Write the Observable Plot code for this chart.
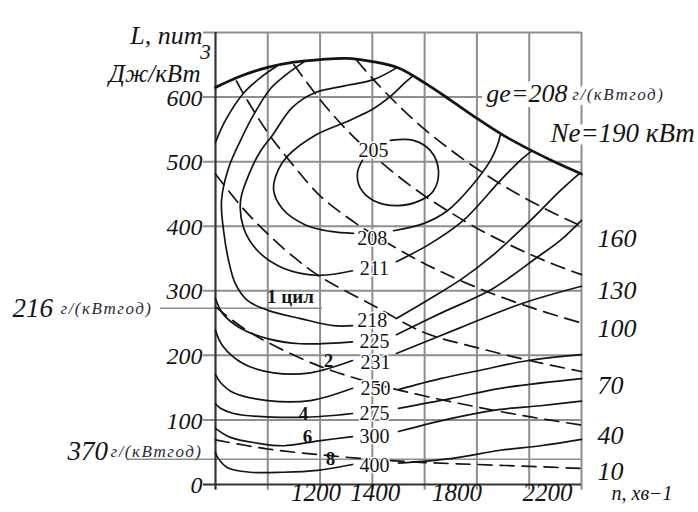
<!DOCTYPE html>
<html><head><meta charset="utf-8">
<script src="https://cdn.jsdelivr.net/npm/d3@7"></script>
<script src="https://cdn.jsdelivr.net/npm/@observablehq/plot@0.6"></script>
<style>
html,body{margin:0;padding:0;background:#fff;}
#chart{width:698px;height:512px;overflow:hidden;}
</style>
</head><body><div id="chart"></div>
<script>
// grid and tick values (n, min^-1 ; L, J/dm3)
const xGrid = [800, 1000, 1200, 1400, 1600, 1800, 2000, 2200];
const yGrid = [0, 100, 200, 300, 400, 500, 600, 700];
const yTickLabels = [0, 100, 200, 300, 400, 500, 600];
const xTickLabels = [1200, 1400, 1800, 2200];

// outer (maximum) characteristic
const outer = [[800,615],[900,633],[1000,646],[1100,654],[1200,658],[1300,660],[1400,655],[1500,645],[1600,622],[1700,595],[1800,567],[1900,541],[2000,519],[2100,499],[2200,481]];

// specific fuel consumption iso-lines (ge, g/kWh)
const ge205 = [[1469,533],[1557,533],[1622,517],[1653,486],[1634,455],[1584,440],[1496,432],[1404,440],[1354,459],[1343,483],[1362,502]];
const ge208L = [[1553,632],[1527,623],[1469,601],[1404,582],[1335,568],[1297,561],[1182,541],[1079,510],[1041,488],[1022,457],[1056,427],[1144,402],[1240,392],[1328,389]];
const ge208R = [[1481,393],[1595,404],[1687,424],[1775,460],[1852,502],[1878,525],[1890,542]];
const ge211L = [[1496,646],[1404,627],[1289,617],[1182,607],[1094,584],[1018,541],[972,516],[934,486],[896,440],[907,398],[961,362],[1060,335],[1190,324],[1324,331]];
const ge211R = [[1492,345],[1622,373],[1748,409],[1890,471],[1966,502],[2012,517]];
const ge218L = [[1144,656],[1068,634],[1010,613],[945,572],[896,533],[850,490],[823,440],[831,393],[850,347],[876,311],[922,285],[999,270],[1125,257],[1251,246],[1324,246]];
const ge218R = [[1492,257],[1622,288],[1741,318],[1852,352],[2005,409],[2119,455],[2196,483]];
const ge225T = [[800,530],[838,564],[907,606],[972,630],[1035,648]];
const ge225L = [[800,288],[827,265],[896,242],[999,226],[1125,218],[1324,221]];
const ge225R = [[1492,232],[1660,265],[1855,302],[2031,352],[2119,378],[2200,409]];
const ge231L = [[800,239],[827,215],[907,187],[1022,173],[1163,173],[1324,192]];
const ge231R = [[1492,203],[1737,243],[1970,280],[2200,307]];
const ge250L = [[800,170],[819,158],[869,142],[999,130],[1163,130],[1324,149]];
const ge250R = [[1500,147],[1660,164],[1813,177],[1997,192],[2200,201]];
const ge275L = [[800,125],[819,118],[869,110],[1125,104],[1324,110]];
const ge275R = [[1500,118],[1699,133],[1890,149],[2200,164]];
const ge300L = [[800,87],[857,73],[961,64],[1060,60],[1202,68],[1324,74]];
const ge300R = [[1500,82],[1699,102],[1882,116],[2043,122],[2200,129]];
const ge400L = [[800,50],[808,42],[846,26],[934,19],[1060,19],[1190,22],[1324,31]];
const ge400R = [[1500,33],[1699,40],[1890,53],[2043,60],[2200,70]];

const geLabels = [205, 208, 211, 218, 225, 231, 250, 275, 300, 400];
const geLabelN = [1404, 1400, 1408, 1400, 1408, 1412, 1412, 1408, 1408, 1408];
const geLabelL = [517, 381, 335, 254, 222, 189, 149, 110, 74, 29];

// constant power lines (Ne, kW)
const ne160 = [[1340,657],[1400,629],[1500,587],[1600,550],[1700,518],[1800,489],[1900,463],[2000,440],[2100,419],[2200,400]];
const ne130 = [[1100,650],[1200,596],[1300,550],[1400,511],[1500,477],[1600,447],[1700,421],[1800,397],[1900,376],[2000,357],[2100,340],[2200,325]];
const ne100 = [[880,625],[900,610],[1000,545],[1100,493],[1200,447],[1300,415],[1400,388],[1600,342],[1800,305],[2000,275],[2200,250]];
const ne70 = [[800,481],[900,430],[1000,388],[1100,352],[1200,322],[1400,278],[1600,235],[1800,212],[2000,192],[2200,175]];
const ne40 = [[800,275],[900,244],[1000,220],[1200,183],[1400,157],[1600,137],[1800,120],[2000,105],[2200,92]];
const ne10 = [[800,69],[1000,55],[1200,46],[1400,39],[1600,34],[1800,31],[2000,28],[2200,25]];
const neValues = [160, 130, 100, 70, 40, 10];
const neLabelL = [380, 300, 242, 153, 76, 20];

// cylinder labels
const cylLabels = ["1 цил", "2", "4", "6", "8"];
const cylN = [1087, 1232, 1137, 1152, 1240];
const cylL = [290, 192, 110, 73, 40];

// reference ge lines on the left
const refLabels = ["216", "370"];
const refL = [273, 51];
const refLineL = [273, 39];
const refFrom = [590, 463];
const refTo = [1209, 2200];
const unitText = "г/(кВтгод)";

const F = "Liberation Serif, Times New Roman, serif";
const ink = "#141414";
const gridC = "#8e8e8e";

const solid = pts => Plot.line(pts, {x: d => d[0], y: d => d[1], curve: "catmull-rom", stroke: ink, strokeWidth: 1.7});
const dashed = pts => Plot.line(pts, {x: d => d[0], y: d => d[1], curve: "catmull-rom", stroke: ink, strokeWidth: 1.7, strokeDasharray: "14,8"});

const geAll = [ge205, ge208L, ge208R, ge211L, ge211R, ge218L, ge218R, ge225T, ge225L, ge225R, ge231L, ge231R, ge250L, ge250R, ge275L, ge275R, ge300L, ge300R, ge400L, ge400R];
const neAll = [ne160, ne130, ne100, ne70, ne40, ne10];

const xShift = {1200: -4, 1400: 3, 1800: -20, 2200: -34};
const refDx = [-203, -148];
const unitDx = [-155, -105];

const it = {fontStyle: "italic", fontFamily: F, fill: ink};

const plot = Plot.plot({
  width: 698, height: 512,
  marginLeft: 215, marginRight: 117, marginTop: 32, marginBottom: 28,
  x: {domain: [800, 2200], axis: null},
  y: {domain: [0, 700], axis: null},
  style: {fontFamily: F, background: "white", color: ink},
  marks: [
    Plot.ruleX(xGrid.filter(v => v > 800), {y1: -9, y2: 700, stroke: gridC, strokeWidth: 2}),
    Plot.ruleY(yGrid.filter(v => v > 0), {x1: 754, x2: 2200, stroke: gridC, strokeWidth: 2}),
    Plot.ruleY(refLineL, {y: d => d, x1: (d, i) => refFrom[i], x2: (d, i) => refTo[i], stroke: gridC, strokeWidth: 1.6}),
    Plot.ruleX([800], {y1: -9, y2: 700, stroke: "#333", strokeWidth: 2.2}),
    Plot.ruleY([0], {x1: 754, x2: 2200, stroke: "#333", strokeWidth: 2.2}),
    ...geAll.map(solid),
    ...neAll.map(dashed),
    Plot.line(outer, {x: d => d[0], y: d => d[1], curve: "catmull-rom", stroke: ink, strokeWidth: 2.8}),
    // ge labels
    Plot.text(geLabels, {x: (d, i) => geLabelN[i], y: (d, i) => geLabelL[i], text: d => String(d), fontSize: 20, fontFamily: F, fill: ink, stroke: "white", strokeWidth: 3, paintOrder: "stroke"}),
    // cylinder labels
    Plot.text(cylLabels, {x: (d, i) => cylN[i], y: (d, i) => cylL[i], text: d => d, fontSize: 19, fontWeight: "bold", fontFamily: F, fill: ink}),
    // y tick labels
    Plot.text(yTickLabels, {frameAnchor: "left", y: d => d, text: d => String(d), dx: -13, dy: 1, textAnchor: "end", fontSize: 24, ...it}),
    // x tick labels
    ...xTickLabels.map(v => Plot.text([v], {x: d => d, frameAnchor: "bottom", dy: 16, dx: xShift[v], text: d => String(d), fontSize: 25, ...it})),
    Plot.text(["n, хв−1"], {frameAnchor: "bottom-right", dx: 30, dy: 15, textAnchor: "start", text: d => d, fontSize: 20, ...it}),
    // Ne labels at right
    Plot.text(neValues, {frameAnchor: "right", y: (d, i) => neLabelL[i], dx: 16, textAnchor: "start", text: d => String(d), fontSize: 26, ...it}),
    // left ge reference labels and their units
    ...refLabels.map((lab, i) => Plot.text([lab], {frameAnchor: "left", y: () => refL[i], dx: refDx[i], textAnchor: "start", text: d => d, fontSize: 27, ...it})),
    ...refLabels.map((lab, i) => Plot.text([unitText], {frameAnchor: "left", y: () => refL[i], dx: unitDx[i], textAnchor: "start", text: d => d, fontSize: 17, fontStyle: "italic", fontFamily: F, fill: "#2a2a3a"})),
    // axis title
    Plot.text(["L, пит"], {frameAnchor: "top-left", dx: -13, dy: -7, textAnchor: "end", text: d => d, fontSize: 26, ...it}),
    Plot.text(["3"], {frameAnchor: "top-left", dx: -10, dy: 12, textAnchor: "middle", text: d => d, fontSize: 21, ...it}),
    Plot.text(["Дж/кВт"], {frameAnchor: "top-left", dx: -15, dy: 32, textAnchor: "end", text: d => d, fontSize: 25, ...it}),
    // annotations of the outer line
    Plot.text(["ge=208"], {x: 1836, y: 606, textAnchor: "start", text: d => d, fontSize: 26, ...it, stroke: "white", strokeWidth: 10, paintOrder: "stroke"}),
    Plot.text([unitText], {x: 2165, y: 604, textAnchor: "start", text: d => d, fontSize: 17, fontStyle: "italic", fontFamily: F, fill: "#2a2a3a", stroke: "white", strokeWidth: 10, paintOrder: "stroke"}),
    Plot.text(["Nе=190 кВт"], {x: 2081, y: 544, textAnchor: "start", text: d => d, fontSize: 27, ...it, stroke: "white", strokeWidth: 10, paintOrder: "stroke"})
  ]
});

document.getElementById("chart").appendChild(plot);
d3.select(plot).selectAll("text").filter(function() { return this.textContent === unitText; })
  .attr("letter-spacing", "1.5px");
</script>
</body></html>
